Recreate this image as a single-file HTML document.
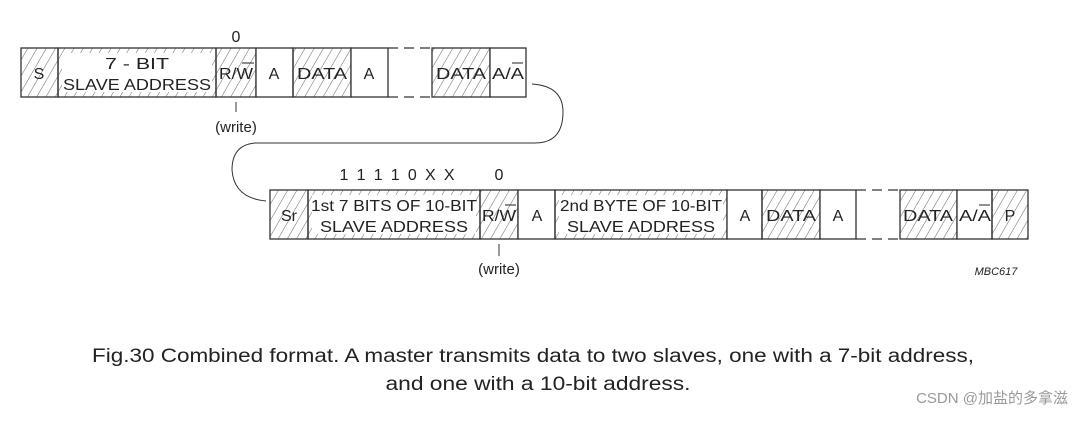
<!DOCTYPE html>
<html><head><meta charset="utf-8"><style>
body{margin:0;background:#fff;width:1076px;height:416px;overflow:hidden}
svg text{font-family:"Liberation Sans",Arial,sans-serif;fill:#222}
</style></head><body>
<svg width="1076" height="416" viewBox="0 0 1076 416" xmlns="http://www.w3.org/2000/svg">
<defs>
<pattern id="h" width="8" height="8" patternUnits="userSpaceOnUse" patternTransform="rotate(30)">
<line x1="0" y1="0" x2="0" y2="8" stroke="#666" stroke-width="1"/>
</pattern>
</defs>
<g stroke="#333" stroke-width="1.3">
<rect x="21" y="48" width="37" height="49" fill="url(#h)"/>
<rect x="58" y="48" width="158" height="49" fill="url(#h)"/>
<rect x="62" y="53" width="150" height="39" fill="#fff" stroke="none"/>
<rect x="216" y="48" width="40" height="49" fill="url(#h)"/>
<rect x="256" y="48" width="37" height="49" fill="#fff"/>
<rect x="293" y="48" width="58" height="49" fill="url(#h)"/>
<rect x="351" y="48" width="37" height="49" fill="#fff"/>
<line x1="388" y1="48" x2="432" y2="48" stroke-dasharray="10,6"/>
<line x1="388" y1="97" x2="432" y2="97" stroke-dasharray="10,6"/>
<rect x="432" y="48" width="58" height="49" fill="url(#h)"/>
<rect x="490" y="48" width="36" height="49" fill="#fff"/>
<line x1="236" y1="102" x2="236" y2="112" stroke-width="1"/>
<path d="M532 84 Q563 86 563 112 Q563 143 535 143 L255 143 Q232 145 232 170 Q234 198 266 201" fill="none" stroke-width="1"/>
<rect x="270" y="190" width="38" height="49" fill="url(#h)"/>
<rect x="308" y="190" width="172" height="49" fill="url(#h)"/>
<rect x="312" y="195" width="164" height="39" fill="#fff" stroke="none"/>
<rect x="480" y="190" width="38" height="49" fill="url(#h)"/>
<rect x="518" y="190" width="37" height="49" fill="#fff"/>
<rect x="555" y="190" width="172" height="49" fill="url(#h)"/>
<rect x="559" y="195" width="164" height="39" fill="#fff" stroke="none"/>
<rect x="727" y="190" width="35" height="49" fill="#fff"/>
<rect x="762" y="190" width="58" height="49" fill="url(#h)"/>
<rect x="820" y="190" width="36" height="49" fill="#fff"/>
<line x1="856" y1="190" x2="900" y2="190" stroke-dasharray="10,6"/>
<line x1="856" y1="239" x2="900" y2="239" stroke-dasharray="10,6"/>
<rect x="900" y="190" width="57" height="49" fill="url(#h)"/>
<rect x="957" y="190" width="35" height="49" fill="#fff"/>
<rect x="992" y="190" width="36" height="49" fill="url(#h)"/>
<line x1="499" y1="244" x2="499" y2="256" stroke-width="1"/>
</g>
<g font-size="16" text-anchor="middle">
<text x="236" y="42">0</text>
<text x="39" y="79">S</text>
<text x="137" y="69" textLength="64" lengthAdjust="spacingAndGlyphs">7 - BIT</text>
<text x="137" y="90" textLength="148" lengthAdjust="spacingAndGlyphs">SLAVE  ADDRESS</text>
<text x="236" y="79" textLength="34" lengthAdjust="spacingAndGlyphs">R/W</text>
<line x1="242" y1="63" x2="254" y2="63" stroke="#222"/>
<text x="274" y="79">A</text>
<text x="322" y="79" textLength="50" lengthAdjust="spacingAndGlyphs">DATA</text>
<text x="369" y="79">A</text>
<text x="461" y="79" textLength="50" lengthAdjust="spacingAndGlyphs">DATA</text>
<text x="508" y="79" textLength="32" lengthAdjust="spacingAndGlyphs">A/A</text>
<line x1="512" y1="63" x2="523" y2="63" stroke="#222"/>
<text x="236" y="132" font-size="15">(write)</text>
<text x="397" y="180" textLength="115" lengthAdjust="spacing">1 1 1 1 0 X X</text>
<text x="499" y="180">0</text>
<text x="289" y="221">Sr</text>
<text x="394" y="211" textLength="166" lengthAdjust="spacingAndGlyphs">1st 7 BITS OF 10-BIT</text>
<text x="394" y="232" textLength="148" lengthAdjust="spacingAndGlyphs">SLAVE  ADDRESS</text>
<text x="499" y="221" textLength="34" lengthAdjust="spacingAndGlyphs">R/W</text>
<line x1="505" y1="205" x2="516" y2="205" stroke="#222"/>
<text x="537" y="221">A</text>
<text x="641" y="211" textLength="162" lengthAdjust="spacingAndGlyphs">2nd BYTE OF 10-BIT</text>
<text x="641" y="232" textLength="148" lengthAdjust="spacingAndGlyphs">SLAVE  ADDRESS</text>
<text x="745" y="221">A</text>
<text x="791" y="221" textLength="50" lengthAdjust="spacingAndGlyphs">DATA</text>
<text x="838" y="221">A</text>
<text x="928" y="221" textLength="50" lengthAdjust="spacingAndGlyphs">DATA</text>
<text x="975" y="221" textLength="32" lengthAdjust="spacingAndGlyphs">A/A</text>
<line x1="979" y1="205" x2="990" y2="205" stroke="#222"/>
<text x="1010" y="221">P</text>
<text x="499" y="274" font-size="15">(write)</text>
<text x="996" y="275" font-size="11" font-style="italic">MBC617</text>
<text x="533" y="362" font-size="19" textLength="882" lengthAdjust="spacingAndGlyphs">Fig.30  Combined format. A master transmits data to two slaves, one with a 7-bit address,</text>
<text x="538" y="390" font-size="19" textLength="305" lengthAdjust="spacingAndGlyphs">and one with a 10-bit address.</text>
</g>
<text x="1068" y="403" font-size="15" text-anchor="end" style="fill:#999;font-family:'Liberation Sans','Noto Sans CJK SC',sans-serif">CSDN @加盐的多拿滋</text>
</svg>
</body></html>
